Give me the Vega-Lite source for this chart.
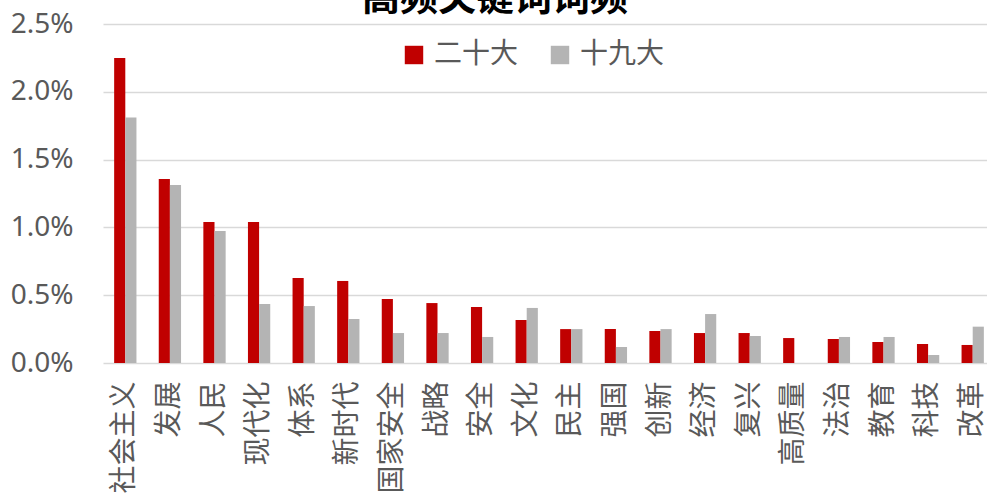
{
  "$schema": "https://vega.github.io/schema/vega-lite/v6.json",
  "autosize": {"type": "none"},
  "padding": {"left": 103, "top": 24, "right": 0, "bottom": 131},
  "width": 892,
  "height": 339,
  "title": {
    "text": "高频关键词词频",
    "font": "Noto Sans CJK SC",
    "fontSize": 38,
    "fontWeight": "bold",
    "color": "#000000",
    "anchor": "middle",
    "dx": -54,
    "offset": -38,
    "baseline": "alphabetic"
  },
  "data": {
    "values": [
      {"词": "社会主义", "会议": "二十大", "词频": 0.0225},
      {"词": "社会主义", "会议": "十九大", "词频": 0.0181},
      {"词": "发展", "会议": "二十大", "词频": 0.01357},
      {"词": "发展", "会议": "十九大", "词频": 0.01313},
      {"词": "人民", "会议": "二十大", "词频": 0.0104},
      {"词": "人民", "会议": "十九大", "词频": 0.00973},
      {"词": "现代化", "会议": "二十大", "词频": 0.0104},
      {"词": "现代化", "会议": "十九大", "词频": 0.00435},
      {"词": "体系", "会议": "二十大", "词频": 0.00627},
      {"词": "体系", "会议": "十九大", "词频": 0.0042},
      {"词": "新时代", "会议": "二十大", "词频": 0.00605},
      {"词": "新时代", "会议": "十九大", "词频": 0.00324},
      {"词": "国家安全", "会议": "二十大", "词频": 0.00472},
      {"词": "国家安全", "会议": "十九大", "词频": 0.00221},
      {"词": "战略", "会议": "二十大", "词频": 0.00442},
      {"词": "战略", "会议": "十九大", "词频": 0.00221},
      {"词": "安全", "会议": "二十大", "词频": 0.00413},
      {"词": "安全", "会议": "十九大", "词频": 0.00192},
      {"词": "文化", "会议": "二十大", "词频": 0.00317},
      {"词": "文化", "会议": "十九大", "词频": 0.00406},
      {"词": "民主", "会议": "二十大", "词频": 0.0025},
      {"词": "民主", "会议": "十九大", "词频": 0.0025},
      {"词": "强国", "会议": "二十大", "词频": 0.0025},
      {"词": "强国", "会议": "十九大", "词频": 0.00118},
      {"词": "创新", "会议": "二十大", "词频": 0.00236},
      {"词": "创新", "会议": "十九大", "词频": 0.0025},
      {"词": "经济", "会议": "二十大", "词频": 0.00221},
      {"词": "经济", "会议": "十九大", "词频": 0.00361},
      {"词": "复兴", "会议": "二十大", "词频": 0.00221},
      {"词": "复兴", "会议": "十九大", "词频": 0.00199},
      {"词": "高质量", "会议": "二十大", "词频": 0.00184},
      {"词": "高质量", "会议": "十九大", "词频": 0},
      {"词": "法治", "会议": "二十大", "词频": 0.00177},
      {"词": "法治", "会议": "十九大", "词频": 0.00192},
      {"词": "教育", "会议": "二十大", "词频": 0.00155},
      {"词": "教育", "会议": "十九大", "词频": 0.00192},
      {"词": "科技", "会议": "二十大", "词频": 0.0014},
      {"词": "科技", "会议": "十九大", "词频": 0.00059},
      {"词": "改革", "会议": "二十大", "词频": 0.00133},
      {"词": "改革", "会议": "十九大", "词频": 0.00268}
    ]
  },
  "mark": {"type": "bar"},
  "encoding": {
    "x": {
      "field": "词",
      "type": "nominal",
      "sort": null,
      "title": null,
      "scale": {"paddingInner": 0.5, "paddingOuter": 0.25},
      "axis": {
        "labelAngle": -90,
        "labelAlign": "right",
        "labelBaseline": "middle",
        "labelFont": "Noto Sans CJK SC",
        "labelFontSize": 28,
        "labelColor": "#595959",
        "labelPadding": 18,
        "ticks": false,
        "domain": false,
        "grid": false
      }
    },
    "xOffset": {"field": "会议", "type": "nominal", "sort": ["二十大", "十九大"]},
    "y": {
      "field": "词频",
      "type": "quantitative",
      "title": null,
      "scale": {"domain": [0, 0.025], "nice": false},
      "axis": {
        "values": [0, 0.005, 0.01, 0.015, 0.02, 0.025],
        "format": ".1%",
        "labelFont": "Noto Sans",
        "labelFontSize": 28,
        "labelColor": "#595959",
        "labelPadding": 30,
        "ticks": false,
        "domain": false,
        "grid": true,
        "gridColor": "#d9d9d9",
        "gridWidth": 1.5
      }
    },
    "color": {
      "field": "会议",
      "type": "nominal",
      "sort": ["二十大", "十九大"],
      "scale": {"domain": ["二十大", "十九大"], "range": ["#C00000", "#B4B4B4"]},
      "legend": {
        "title": null,
        "orient": "none",
        "direction": "horizontal",
        "legendX": 297,
        "legendY": 17,
        "padding": 0,
        "symbolType": "square",
        "symbolSize": 340,
        "symbolStrokeWidth": 0,
        "symbolOpacity": 1,
        "labelFont": "Noto Sans CJK SC",
        "labelFontSize": 28,
        "labelColor": "#595959",
        "labelOffset": 6,
        "columnPadding": 27
      }
    }
  },
  "config": {"view": {"stroke": null}}
}
